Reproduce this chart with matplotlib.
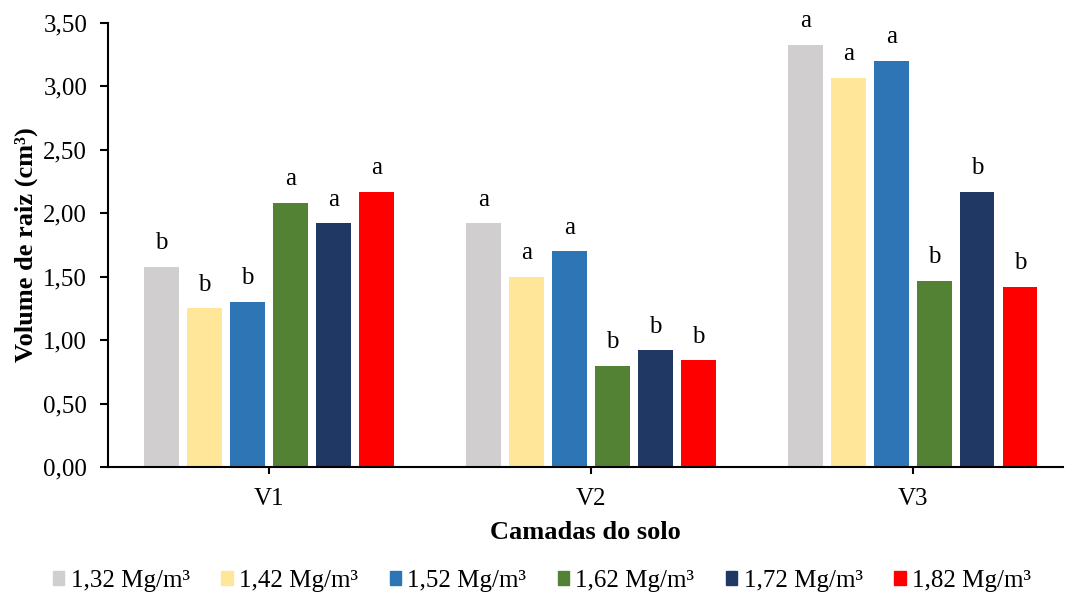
import numpy as np
import matplotlib.pyplot as plt
from matplotlib.patches import Patch

plt.rcParams['font.family'] = ['Liberation Serif', 'DejaVu Serif']

camadas = ['V1', 'V2', 'V3']
densidades = ['1,32 Mg/m³', '1,42 Mg/m³', '1,52 Mg/m³', '1,62 Mg/m³', '1,72 Mg/m³', '1,82 Mg/m³']
cores = ['#d0cece', '#ffe699', '#2e75b6', '#548235', '#203864', '#ff0000']

# volume de raiz por camada (linhas = densidade, colunas = V1, V2, V3)
volume = [
    [1.58, 1.92, 3.33],
    [1.25, 1.50, 3.07],
    [1.30, 1.70, 3.20],
    [2.08, 0.80, 1.47],
    [1.92, 0.92, 2.17],
    [2.17, 0.84, 1.42],
]
letras = [
    ['b', 'a', 'a'],
    ['b', 'a', 'a'],
    ['b', 'a', 'a'],
    ['a', 'b', 'b'],
    ['a', 'b', 'b'],
    ['a', 'b', 'b'],
]

fig = plt.figure(figsize=(10.65, 5.94), dpi=100)
ax = fig.add_axes([108/1065, 1 - 467/594, 955/1065, 444/594])

x = np.arange(len(camadas))
passo = 0.1335
largura = 0.106
for i in range(len(densidades)):
    pos = x + (i - 2.5) * passo
    ax.bar(pos, volume[i], largura, color=cores[i], zorder=2)
    for xp, v, l in zip(pos, volume[i], letras[i]):
        ax.text(xp, v + 0.1, l, ha='center', va='bottom', fontsize=18)

ax.set_xlim(-0.5, 2.466)
ax.set_ylim(0, 3.5)
ticks = np.arange(0, 3.51, 0.5)
ax.set_yticks(ticks)
ax.set_yticklabels([f'{v:.2f}'.replace('.', ',') for v in ticks], fontsize=18)
ax.set_xticks(x)
ax.set_xticklabels(camadas, fontsize=18)
ax.tick_params(axis='y', length=6, width=1.5, pad=9)
ax.tick_params(axis='x', length=5, width=1.5, pad=10)

for s in ['top', 'right']:
    ax.spines[s].set_visible(False)
ax.spines['left'].set_linewidth(1.5)
ax.spines['bottom'].set_linewidth(1.5)

ax.set_ylabel('Volume de raiz (cm³)', fontsize=19, fontweight='bold', labelpad=4)
ax.set_xlabel('Camadas do solo', fontsize=19, fontweight='bold', labelpad=8)

handles = [Patch(color=c) for c in cores]
fig.legend(handles, densidades, loc='center', bbox_to_anchor=(0.509, 0.022), ncol=6,
           frameon=False, fontsize=18, handlelength=0.45, handleheight=0.5,
           handletextpad=0.25, columnspacing=1.27, borderaxespad=0)

fig.savefig('out.png', dpi=100)
